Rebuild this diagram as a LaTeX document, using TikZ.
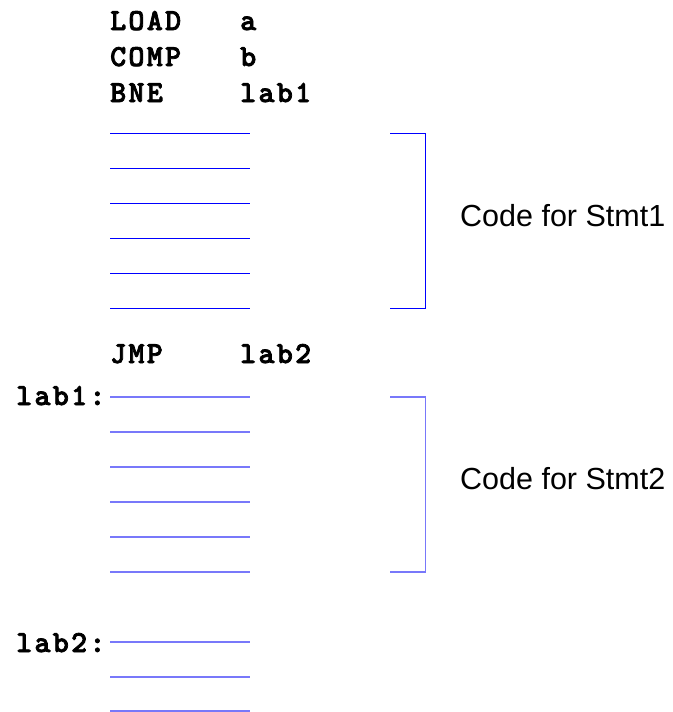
\documentclass[tikz,border=0pt]{standalone}
\usepackage{fontspec}
\setmainfont{Liberation Sans}
\newfontfamily\codefont{lmmonolt10-bold.otf}[FakeBold=2.5,LetterSpace=7.5]
\begin{document}
\begin{tikzpicture}[x=1pt,y=-1pt,
  code/.style={font=\codefont\fontsize{30.5}{30.5}\selectfont, inner sep=0pt, anchor=base west},
  note/.style={font=\fontsize{30.5}{30.5}\selectfont, inner sep=0pt, anchor=base west},
  slotA/.style={draw=blue, line width=1.3pt},
  slotB/.style={draw={rgb,255:red,120;green,120;blue,250}, line width=1.8pt},
  bracketA/.style={draw=blue, line width=1.3pt},
  bracketB/.style={draw={rgb,255:red,120;green,120;blue,250}, line width=1.8pt}]
\useasboundingbox (0,0) rectangle (672,712);
% instructions
\node[code] (load) at (110,30) {LOAD};
\node[code] (loada) at (240,30) {a};
\node[code] (comp) at (110,66) {COMP};
\node[code] (compb) at (240,66) {b};
\node[code] (bne) at (110,102) {BNE};
\node[code] (bnel) at (240,102) {lab1};
\node[code] (jmp) at (110,363) {JMP};
\node[code] (jmpl) at (240,363) {lab2};
\node[code] (lab1) at (16,405) {lab1:};
\node[code] (lab2) at (16,652) {lab2:};
% slots for Stmt1
\foreach \i/\y in {1/133.5,2/168.5,3/203.5,4/238.5,5/273.5,6/308.5}{
  \coordinate (a\i l) at (110,\y);
  \coordinate (a\i r) at (250,\y);
  \draw[slotA] (a\i l) -- (a\i r);
}
% slots for Stmt2
\foreach \i/\y in {1/397,2/432,3/467,4/502,5/537,6/572}{
  \coordinate (b\i l) at (110,\y);
  \coordinate (b\i r) at (250,\y);
  \draw[slotB] (b\i l) -- (b\i r);
}
% slots after lab2
\foreach \i/\y in {1/642,2/677,3/711}{
  \coordinate (c\i l) at (110,\y);
  \coordinate (c\i r) at (250,\y);
  \draw[slotB] (c\i l) -- (c\i r);
}
% brackets
\coordinate (s1t) at (390,133.5);
\coordinate (s1b) at (390,308.5);
\draw[bracketA] (s1t) -| (425.5,308.5) -- (s1b);
\coordinate (s2t) at (390,397);
\coordinate (s2b) at (390,572);
\draw[bracketB] (s2t) -| (425.5,572) -- (s2b);
\node[note] (stmt1) at (460,226) {Code for Stmt1};
\node[note] (stmt2) at (460,489) {Code for Stmt2};
\end{tikzpicture}
\end{document}
